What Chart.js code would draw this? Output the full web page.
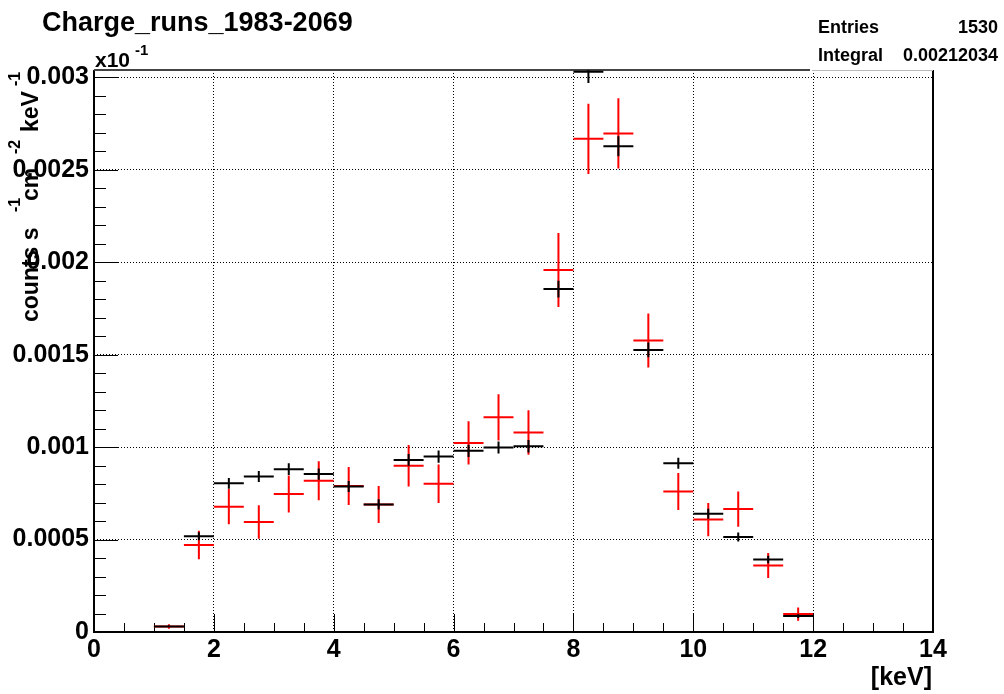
<!DOCTYPE html>
<html>
<head>
<meta charset="utf-8">
<script src="https://cdn.jsdelivr.net/npm/chart.js@4/dist/chart.umd.min.js"></script>
<style>
body { margin: 0; background: #fff; }
canvas { display: block; }
</style>
</head>
<body>
<canvas id="myChart" width="1004" height="694"></canvas>
<script>
// bins of 0.5 keV
var binCenters = [1.25, 1.75, 2.25, 2.75, 3.25, 3.75, 4.25, 4.75, 5.25, 5.75, 6.25,
                  6.75, 7.25, 7.75, 8.25, 8.75, 9.25, 9.75, 10.25, 10.75, 11.25, 11.75]
var binWidth = 0.5

var blackVals = [0.00003, 0.000518, 0.000804, 0.000841, 0.000881, 0.000854, 0.000787, 0.00069,
                 0.000931, 0.000949, 0.00098, 0.000998, 0.001005, 0.001855, 0.00303, 0.002627,
                 0.001526, 0.000913, 0.00064, 0.000514, 0.000392, 0.000086]
var blackErr = [0.000006, 0.000022, 0.000029, 0.00003, 0.000032, 0.00003, 0.00003, 0.000028,
                0.000032, 0.000033, 0.000033, 0.000033, 0.000034, 0.000045, 0.00006, 0.000054,
                0.00004, 0.00003, 0.000027, 0.000024, 0.00002, 0.00001]

var redVals = [0.00003, 0.000471, 0.000678, 0.000595, 0.000746, 0.000818, 0.00079, 0.00069,
               0.000899, 0.000802, 0.001023, 0.001161, 0.001079, 0.001958, 0.002668, 0.002697,
               0.001577, 0.00076, 0.000608, 0.000665, 0.00036, 0.000097]
var redErr = [0.000012, 0.000077, 0.000095, 0.00009, 0.0001, 0.000105, 0.000103, 0.0001,
              0.000112, 0.000104, 0.000117, 0.000125, 0.00012, 0.0002, 0.00019, 0.00019,
              0.000146, 0.0001, 0.00009, 0.000095, 0.000068, 0.000036]

var xTicks = [0, 2, 4, 6, 8, 10, 12, 14]
var yTicks = [0, 0.0005, 0.001, 0.0015, 0.002, 0.0025, 0.003]

var FONT = '"Liberation Sans", Arial, Helvetica, sans-serif'

const toPoints = vals => vals.map((v, i) => ({x: binCenters[i], y: v}))

const data = {
    datasets: [
        {label: 'red', data: toPoints(redVals), errors: redErr, borderColor: '#ff0000'},
        {label: 'black', data: toPoints(blackVals), errors: blackErr, borderColor: '#000000'}
    ]
}

// error crosses: horizontal = bin width, vertical = +-error
const errorCross = {
    id: 'errorCross',
    afterDatasetsDraw(chart) {
        const {ctx, chartArea: a, scales: {x, y}} = chart
        ctx.save()
        ctx.beginPath()
        ctx.rect(a.left, a.top, a.right - a.left, a.bottom - a.top)
        ctx.clip()
        ctx.lineWidth = 2
        chart.data.datasets.forEach(ds => {
            ctx.strokeStyle = ds.borderColor
            ds.data.forEach((p, i) => {
                const px = x.getPixelForValue(p.x)
                const py = y.getPixelForValue(p.y)
                ctx.beginPath()
                ctx.moveTo(x.getPixelForValue(p.x - binWidth / 2), py)
                ctx.lineTo(x.getPixelForValue(p.x + binWidth / 2), py)
                ctx.moveTo(px, y.getPixelForValue(p.y + ds.errors[i]))
                ctx.lineTo(px, y.getPixelForValue(p.y - ds.errors[i]))
                ctx.stroke()
            })
        })
        ctx.restore()
    }
}

// ROOT style frame with inner ticks
const frame = {
    id: 'frame',
    beforeDatasetsDraw(chart) {
        const {ctx, chartArea: a, scales: {x, y}} = chart
        ctx.save()
        ctx.strokeStyle = '#000'
        ctx.lineWidth = 1
        ctx.beginPath()
        for (let v = 0; v <= 0.003 + 1e-9; v += 0.0001) {
            const py = Math.round(y.getPixelForValue(v)) + 0.5
            const major = Math.abs(v / 0.0005 - Math.round(v / 0.0005)) < 1e-6
            ctx.moveTo(a.left, py)
            ctx.lineTo(a.left + (major ? 24 : 12), py)
        }
        for (let v = 0; v <= 14; v += 0.5) {
            const px = Math.round(x.getPixelForValue(v)) + 0.5
            const major = v % 2 === 0
            ctx.moveTo(px, a.bottom)
            ctx.lineTo(px, a.bottom - (major ? 18 : 9))
        }
        ctx.stroke()

        ctx.lineWidth = 2
        ctx.beginPath()
        ctx.moveTo(a.left, a.top)
        ctx.lineTo(a.left, a.bottom)
        ctx.lineTo(a.right, a.bottom)
        ctx.lineTo(a.right, a.top)
        ctx.stroke()
        ctx.strokeStyle = '#444'
        ctx.beginPath()
        ctx.moveTo(a.left, a.top)
        ctx.lineTo(810, a.top)
        ctx.stroke()
        ctx.strokeStyle = '#bbb'
        ctx.lineWidth = 1
        ctx.beginPath()
        ctx.moveTo(812, a.top + 0.5)
        ctx.lineTo(a.right, a.top + 0.5)
        ctx.stroke()
        ctx.restore()
    },
    afterDraw(chart) {
        const ctx = chart.ctx
        ctx.save()
        ctx.fillStyle = '#000'
        ctx.textBaseline = 'alphabetic'

        ctx.font = 'bold 27px ' + FONT
        ctx.fillText('Charge_runs_1983-2069', 42, 31)

        ctx.font = 'bold 21px ' + FONT
        ctx.fillText('x10', 95, 67)
        ctx.font = 'bold 15px ' + FONT
        ctx.fillText('-1', 135, 55)

        ctx.font = 'bold 18px ' + FONT
        ctx.fillText('Entries', 818, 33)
        ctx.fillText('Integral', 818, 61)
        ctx.textAlign = 'right'
        ctx.fillText('1530', 998, 33)
        ctx.fillText('0.00212034', 998, 61)

        ctx.font = 'bold 25px ' + FONT
        ctx.fillText('[keV]', 932, 685)

        // y title, rotated
        ctx.textAlign = 'left'
        ctx.translate(38, 322)
        ctx.rotate(-Math.PI / 2)
        ctx.font = 'bold 23px ' + FONT
        ctx.fillText('counts s', 0, 0)
        ctx.fillText('cm', 121, 0)
        ctx.fillText('keV', 190, 0)
        ctx.font = 'bold 16px ' + FONT
        ctx.fillText('-1', 110, -18)
        ctx.fillText('-2', 168, -18)
        ctx.fillText('-1', 236, -18)
        ctx.restore()
    }
}

const tickFont = {family: FONT, size: 25, weight: 'bold'}

const opcoes = {
    responsive: false,
    animation: false,
    layout: {padding: {left: 0, top: 70, right: 71, bottom: 0}},
    elements: {point: {radius: 0}},
    plugins: {legend: {display: false}, tooltip: {enabled: false}},
    scales: {
        x: {
            type: 'linear', min: 0, max: 14,
            afterBuildTicks: s => { s.ticks = xTicks.map(v => ({value: v})) },
            afterFit: s => { s.height = 62 },
            ticks: {font: tickFont, color: '#000', padding: 3, maxRotation: 0, autoSkip: false},
            grid: {
                drawTicks: false,
                color: c => (c.tick && (c.tick.value === 0 || c.tick.value === 14)) ? 'rgba(0,0,0,0)' : '#000',
                lineWidth: 1
            },
            border: {display: false, dash: [1, 2]}
        },
        y: {
            type: 'linear', min: 0, max: 0.00304,
            afterBuildTicks: s => { s.ticks = yTicks.map(v => ({value: v})) },
            afterFit: s => { s.width = 94 },
            ticks: {
                font: tickFont, color: '#000', padding: 5, autoSkip: false,
                callback: v => String(+v.toFixed(4))
            },
            grid: {
                drawTicks: false,
                color: c => (c.tick && c.tick.value === 0) ? 'rgba(0,0,0,0)' : '#000',
                lineWidth: 1
            },
            border: {display: false, dash: [1, 2]}
        }
    }
}

const config = {
    type: 'scatter',
    data: data,
    options: opcoes,
    plugins: [frame, errorCross]
}

const grafico = new Chart(document.getElementById('myChart'), config)
</script>
</body>
</html>
